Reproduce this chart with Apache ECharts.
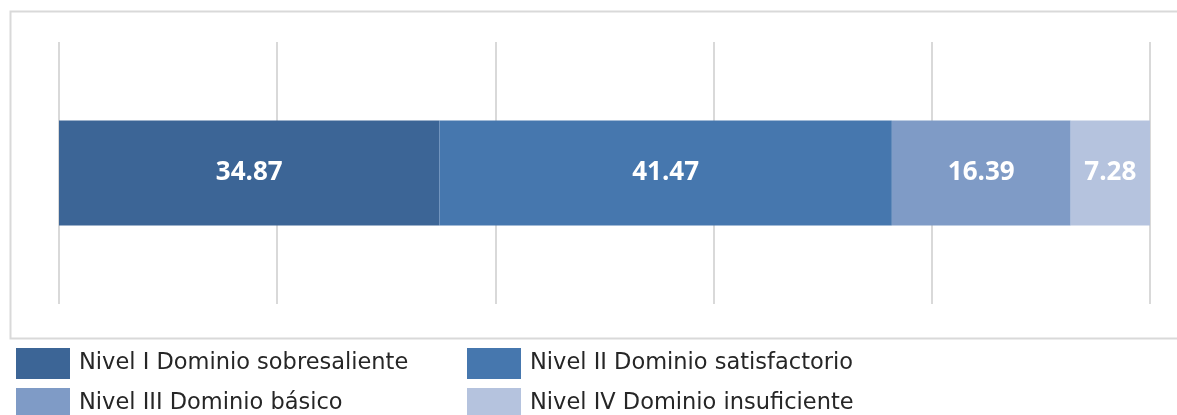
<!DOCTYPE html>
<html>
<head>
<meta charset="utf-8">
<script src="https://cdn.jsdelivr.net/npm/echarts@6/dist/echarts.min.js"></script>
<style>
  html, body { margin: 0; padding: 0; background: #fff; }
  #chart { width: 1177px; height: 415px; }
</style>
</head>
<body>
<div id="chart"></div>
<script>
// 数据
var categories = ["Total"];
var nivelI = [34.87];
var nivelII = [41.47];
var nivelIII = [16.39];
var nivelIV = [7.28];
var seriesNames = [
  "Nivel I Dominio sobresaliente",
  "Nivel II Dominio satisfactorio",
  "Nivel III Dominio básico",
  "Nivel IV Dominio insuficiente"
];
var colors = ["#3C6596", "#4677AE", "#7F9BC6", "#B5C3DE"];

function makeSeries(name, data, color) {
  return {
    name: name,
    type: "bar",
    stack: "total",
    data: data,
    barWidth: 105,
    itemStyle: { color: color },
    label: {
      show: true,
      position: "inside",
      color: "#fff",
      fontFamily: "Open Sans",
      fontWeight: "bold",
      fontSize: 26,
      formatter: function (p) { return p.value.toFixed(2); }
    }
  };
}

// 图例：每项单独定位，两列两行
function makeLegend(name, left, top) {
  return {
    left: left,
    top: top,
    itemWidth: 54,
    itemHeight: 31,
    padding: 0,
    icon: "rect",
    data: [name],
    textStyle: {
      fontFamily: "DejaVu Sans",
      fontSize: 22.5,
      color: "#262626",
      padding: [0, 0, 0, 4]
    }
  };
}

var options = {
  animation: false,
  color: colors,
  grid: { left: 59, right: 27, top: 42, bottom: 111 },
  xAxis: {
    type: "value",
    min: 0,
    max: 100,
    interval: 20,
    axisLine: { show: false },
    axisTick: { show: false },
    axisLabel: { show: false },
    splitLine: { show: true, lineStyle: { color: "#d9d9d9", width: 2 } }
  },
  yAxis: {
    type: "category",
    data: categories,
    axisLine: { show: false },
    axisTick: { show: false },
    axisLabel: { show: false }
  },
  legend: [
    makeLegend(seriesNames[0], 16, 348),
    makeLegend(seriesNames[1], 467, 348),
    makeLegend(seriesNames[2], 16, 388),
    makeLegend(seriesNames[3], 467, 388)
  ],
  graphic: [
    {
      type: "rect",
      left: 8,
      top: 9,
      shape: { x: 0, y: 0, width: 1180, height: 327 },
      style: { fill: "none", stroke: "#d9d9d9", lineWidth: 2 },
      silent: true,
      z: -1
    }
  ],
  series: [
    makeSeries(seriesNames[0], nivelI, colors[0]),
    makeSeries(seriesNames[1], nivelII, colors[1]),
    makeSeries(seriesNames[2], nivelIII, colors[2]),
    makeSeries(seriesNames[3], nivelIV, colors[3])
  ]
};

var myEchart = echarts.init(document.getElementById("chart"));
myEchart.setOption(options);
</script>
</body>
</html>
